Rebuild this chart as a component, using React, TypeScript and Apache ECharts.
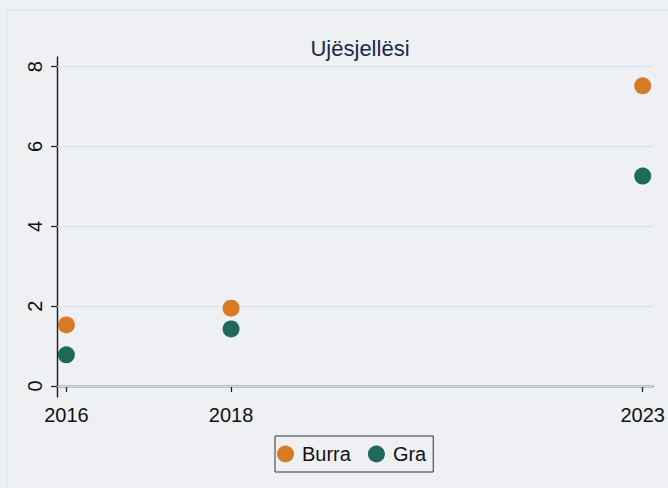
import React, { useEffect, useRef } from "react";
import * as echarts from "echarts";

const years = [2016, 2018, 2023];
const burra = [1.53, 1.95, 7.52];
const gra = [0.78, 1.43, 5.26];
const yTicks = [0, 2, 4, 6, 8];
const seriesNames = ["Burra", "Gra"];
const titleText = "Ujësjellësi";

const FONT = "Liberation Sans, Arial, Helvetica, sans-serif";

export default function App() {
  const ref = useRef<HTMLDivElement>(null);
  useEffect(() => {
    if (!ref.current) return;
    const chart = echarts.init(ref.current, undefined, { renderer: "svg" });
    chart.setOption({
      animation: false,
      backgroundColor: "#eef0f3",
      textStyle: { fontFamily: FONT },
      graphic: [
        {
          type: "rect",
          shape: { x: 6.5, y: 10.5, width: 680, height: 500 },
          style: { fill: "none", stroke: "#dbe3e6", lineWidth: 1 },
          silent: true,
          z: -1,
        },
      ],
      title: {
        text: titleText,
        left: 355,
        textAlign: "center",
        top: 32,
        textStyle: { fontFamily: FONT, fontSize: 22, fontWeight: "normal", color: "#1a2a4d" },
      },
      legend: {
        data: seriesNames,
        left: 275,
        top: 436,
        orient: "horizontal",
        icon: "circle",
        itemWidth: 17,
        itemHeight: 17,
        itemGap: 17,
        padding: [8, 7, 8, 2],
        borderColor: "#333",
        borderWidth: 1,
        textStyle: { fontFamily: FONT, fontSize: 20, color: "#111", padding: [0, 0, 0, 3] },
      },
      grid: { left: 57, right: 15, top: 57, bottom: 91, containLabel: false },
      xAxis: {
        type: "value",
        min: 2015.886,
        max: 2023.125,
        axisLine: { show: true, lineStyle: { color: "#1a1a1a", width: 1.4 } },
        axisTick: { show: true, length: 6, customValues: years, lineStyle: { color: "#1a1a1a", width: 1.2 } },
        axisLabel: {
          customValues: years,
          fontFamily: FONT,
          fontSize: 20,
          color: "#111",
          margin: 8,
          formatter: (v: number) => String(v),
        },
        splitLine: { show: false },
      },
      yAxis: {
        type: "value",
        min: -0.276,
        max: 8.243,
        axisLine: { show: true, lineStyle: { color: "#1a1a1a", width: 1.4 } },
        axisTick: { show: true, length: 6, customValues: yTicks, lineStyle: { color: "#1a1a1a", width: 1.2 } },
        axisLabel: {
          customValues: yTicks,
          rotate: 90,
          fontFamily: FONT,
          fontSize: 20,
          color: "#111",
          margin: 12,
          formatter: (v: number) => String(v),
        },
        splitLine: { show: false },
      },
      series: [
        {
          name: seriesNames[0],
          type: "scatter",
          symbol: "circle",
          symbolSize: 17,
          itemStyle: { color: "#d97a27", opacity: 1 },
          data: years.map((y, i) => [y, burra[i]]),
          z: 3,
          markLine: {
            silent: true,
            symbol: ["none", "none"],
            label: { show: false },
            lineStyle: { color: "#d3e2e4", type: "solid", width: 1.2 },
            data: yTicks.map((v) => ({ yAxis: v })),
            z: 1,
          },
        },
        {
          name: seriesNames[1],
          type: "scatter",
          symbol: "circle",
          symbolSize: 17,
          itemStyle: { color: "#1e685c", opacity: 1 },
          data: years.map((y, i) => [y, gra[i]]),
          z: 3,
        },
      ],
    });
    return () => chart.dispose();
  }, []);
  return <div ref={ref} style={{ position: "fixed", left: 0, top: 0, width: 668, height: 488 }} />;
}
